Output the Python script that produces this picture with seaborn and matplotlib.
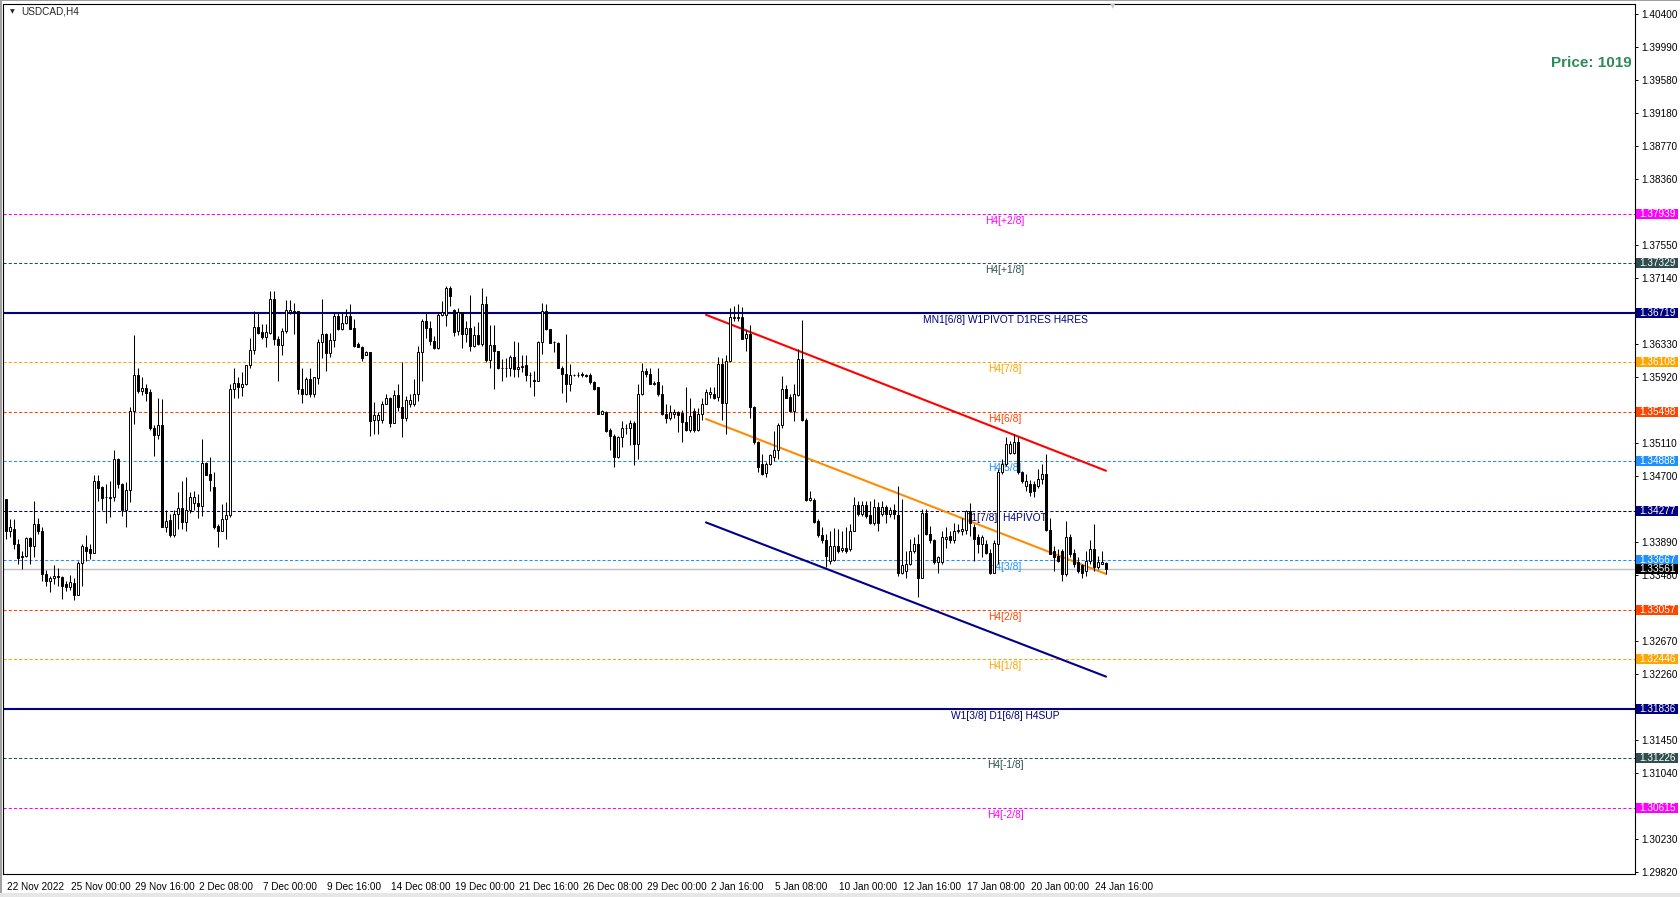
import matplotlib
matplotlib.use("Agg")
import matplotlib.pyplot as plt
import matplotlib.transforms as mtransforms
import matplotlib.patches as mpatches
import numpy as np
import seaborn as sns

# H4 candles, USDCAD, oldest first
opens = [
    1.3442, 1.3403, 1.3405, 1.3386, 1.3370, 1.3372, 1.3394, 1.3384, 1.3411, 1.3403,
    1.3349, 1.3341, 1.3344, 1.3347, 1.3346, 1.3337, 1.3334, 1.3339, 1.3324, 1.3363,
    1.3383, 1.3380, 1.3376, 1.3464, 1.3457, 1.3444, 1.3443, 1.3444, 1.3491, 1.3460,
    1.3429, 1.3453, 1.3550, 1.3595, 1.3575, 1.3579, 1.3574, 1.3529, 1.3521, 1.3533,
    1.3407, 1.3416, 1.3397, 1.3423, 1.3431, 1.3414, 1.3428, 1.3437, 1.3437, 1.3433,
    1.3486, 1.3473, 1.3457, 1.3409, 1.3403, 1.3417, 1.3422, 1.3577, 1.3585, 1.3580,
    1.3584, 1.3607, 1.3626, 1.3654, 1.3648, 1.3642, 1.3647, 1.3688, 1.3639, 1.3632,
    1.3649, 1.3673, 1.3674, 1.3674, 1.3577, 1.3571, 1.3590, 1.3572, 1.3591, 1.3636,
    1.3645, 1.3622, 1.3638, 1.3668, 1.3652, 1.3659, 1.3668, 1.3653, 1.3633, 1.3629,
    1.3619, 1.3623, 1.3540, 1.3540, 1.3540, 1.3559, 1.3567, 1.3536, 1.3570, 1.3556,
    1.3542, 1.3559, 1.3559, 1.3572, 1.3623, 1.3662, 1.3653, 1.3637, 1.3628, 1.3669,
    1.3669, 1.3702, 1.3675, 1.3649, 1.3673, 1.3645, 1.3653, 1.3631, 1.3644, 1.3633,
    1.3683, 1.3613, 1.3632, 1.3625, 1.3603, 1.3603, 1.3603, 1.3617, 1.3602, 1.3605,
    1.3607, 1.3595, 1.3589, 1.3587, 1.3635, 1.3674, 1.3651, 1.3635, 1.3634, 1.3604,
    1.3596, 1.3584, 1.3595, 1.3595, 1.3596, 1.3595, 1.3595, 1.3586, 1.3580, 1.3547,
    1.3549, 1.3527, 1.3520, 1.3494, 1.3518, 1.3530, 1.3529, 1.3536, 1.3510, 1.3571,
    1.3600, 1.3596, 1.3584, 1.3586, 1.3571, 1.3547, 1.3542, 1.3547, 1.3549, 1.3548,
    1.3537, 1.3527, 1.3551, 1.3527, 1.3547, 1.3559, 1.3572, 1.3572, 1.3568, 1.3608,
    1.3560, 1.3612, 1.3665, 1.3665, 1.3666, 1.3640, 1.3646, 1.3556, 1.3512, 1.3485,
    1.3474, 1.3485, 1.3494, 1.3503, 1.3533, 1.3577, 1.3568, 1.3551, 1.3570, 1.3614,
    1.3540, 1.3441, 1.3441, 1.3415, 1.3397, 1.3391, 1.3366, 1.3367, 1.3384, 1.3379,
    1.3381, 1.3380, 1.3403, 1.3435, 1.3423, 1.3434, 1.3422, 1.3412, 1.3432, 1.3423,
    1.3432, 1.3423, 1.3428, 1.3422, 1.3351, 1.3353, 1.3362, 1.3378, 1.3386, 1.3345,
    1.3425, 1.3399, 1.3391, 1.3364, 1.3364, 1.3393, 1.3396, 1.3391, 1.3402, 1.3403,
    1.3404, 1.3427, 1.3407, 1.3395, 1.3386, 1.3387, 1.3376, 1.3351, 1.3386, 1.3475,
    1.3485, 1.3499, 1.3499, 1.3512, 1.3475, 1.3458, 1.3461, 1.3460, 1.3458, 1.3467,
    1.3473, 1.3404, 1.3378, 1.3372, 1.3378, 1.3349, 1.3395, 1.3376, 1.3364, 1.3360,
    1.3353, 1.3366, 1.3380, 1.3358, 1.3362, 1.3363,
]
highs = [
    1.3442, 1.3417, 1.3417, 1.3393, 1.3378, 1.3395, 1.3395, 1.3439, 1.3419, 1.3407,
    1.3354, 1.3347, 1.3360, 1.3357, 1.3347, 1.3341, 1.3348, 1.3345, 1.3366, 1.3386,
    1.3397, 1.3387, 1.3472, 1.3471, 1.3458, 1.3460, 1.3464, 1.3503, 1.3493, 1.3462,
    1.3463, 1.3556, 1.3644, 1.3604, 1.3593, 1.3584, 1.3577, 1.3533, 1.3566, 1.3565,
    1.3428, 1.3423, 1.3428, 1.3450, 1.3464, 1.3469, 1.3451, 1.3452, 1.3448, 1.3516,
    1.3488, 1.3494, 1.3475, 1.3411, 1.3436, 1.3438, 1.3584, 1.3603, 1.3592, 1.3599,
    1.3607, 1.3641, 1.3674, 1.3673, 1.3658, 1.3658, 1.3699, 1.3698, 1.3643, 1.3653,
    1.3687, 1.3687, 1.3684, 1.3674, 1.3604, 1.3592, 1.3604, 1.3593, 1.3639, 1.3688,
    1.3647, 1.3647, 1.3672, 1.3673, 1.3672, 1.3676, 1.3682, 1.3664, 1.3636, 1.3631,
    1.3625, 1.3623, 1.3561, 1.3549, 1.3563, 1.3571, 1.3568, 1.3576, 1.3584, 1.3611,
    1.3569, 1.3572, 1.3590, 1.3631, 1.3664, 1.3673, 1.3662, 1.3643, 1.3671, 1.3686,
    1.3704, 1.3704, 1.3676, 1.3677, 1.3673, 1.3662, 1.3694, 1.3655, 1.3660, 1.3702,
    1.3692, 1.3657, 1.3657, 1.3625, 1.3614, 1.3616, 1.3619, 1.3637, 1.3636, 1.3619,
    1.3619, 1.3598, 1.3600, 1.3637, 1.3684, 1.3683, 1.3652, 1.3637, 1.3636, 1.3606,
    1.3646, 1.3609, 1.3596, 1.3598, 1.3598, 1.3596, 1.3597, 1.3588, 1.3580, 1.3552,
    1.3551, 1.3530, 1.3522, 1.3520, 1.3538, 1.3535, 1.3539, 1.3538, 1.3584, 1.3610,
    1.3604, 1.3604, 1.3588, 1.3603, 1.3583, 1.3559, 1.3558, 1.3553, 1.3551, 1.3552,
    1.3580, 1.3566, 1.3554, 1.3554, 1.3567, 1.3578, 1.3580, 1.3580, 1.3617, 1.3616,
    1.3619, 1.3677, 1.3680, 1.3683, 1.3679, 1.3650, 1.3657, 1.3557, 1.3514, 1.3497,
    1.3487, 1.3498, 1.3526, 1.3536, 1.3594, 1.3582, 1.3571, 1.3584, 1.3627, 1.3663,
    1.3542, 1.3452, 1.3443, 1.3417, 1.3407, 1.3399, 1.3403, 1.3406, 1.3405, 1.3403,
    1.3407, 1.3411, 1.3444, 1.3440, 1.3440, 1.3440, 1.3440, 1.3442, 1.3438, 1.3440,
    1.3434, 1.3432, 1.3436, 1.3458, 1.3442, 1.3378, 1.3393, 1.3395, 1.3399, 1.3430,
    1.3430, 1.3409, 1.3393, 1.3372, 1.3403, 1.3407, 1.3403, 1.3413, 1.3411, 1.3419,
    1.3428, 1.3437, 1.3411, 1.3399, 1.3397, 1.3391, 1.3380, 1.3391, 1.3479, 1.3491,
    1.3518, 1.3514, 1.3522, 1.3518, 1.3477, 1.3473, 1.3466, 1.3464, 1.3479, 1.3485,
    1.3497, 1.3419, 1.3384, 1.3380, 1.3380, 1.3415, 1.3399, 1.3380, 1.3370, 1.3362,
    1.3378, 1.3391, 1.3411, 1.3372, 1.3378, 1.3364,
]
lows = [
    1.3393, 1.3395, 1.3380, 1.3362, 1.3356, 1.3370, 1.3362, 1.3370, 1.3399, 1.3341,
    1.3335, 1.3327, 1.3337, 1.3335, 1.3319, 1.3329, 1.3330, 1.3317, 1.3323, 1.3335,
    1.3366, 1.3368, 1.3376, 1.3440, 1.3428, 1.3412, 1.3420, 1.3440, 1.3456, 1.3421,
    1.3407, 1.3438, 1.3535, 1.3573, 1.3570, 1.3563, 1.3527, 1.3495, 1.3516, 1.3407,
    1.3401, 1.3395, 1.3395, 1.3405, 1.3405, 1.3403, 1.3425, 1.3428, 1.3419, 1.3421,
    1.3471, 1.3452, 1.3405, 1.3383, 1.3403, 1.3393, 1.3420, 1.3567, 1.3567, 1.3569,
    1.3582, 1.3604, 1.3621, 1.3645, 1.3639, 1.3630, 1.3645, 1.3632, 1.3588, 1.3620,
    1.3647, 1.3670, 1.3645, 1.3571, 1.3560, 1.3570, 1.3568, 1.3568, 1.3584, 1.3616,
    1.3600, 1.3617, 1.3629, 1.3650, 1.3650, 1.3658, 1.3651, 1.3630, 1.3629, 1.3612,
    1.3619, 1.3520, 1.3522, 1.3522, 1.3536, 1.3559, 1.3531, 1.3536, 1.3551, 1.3518,
    1.3538, 1.3555, 1.3557, 1.3563, 1.3588, 1.3641, 1.3632, 1.3627, 1.3627, 1.3668,
    1.3655, 1.3680, 1.3643, 1.3644, 1.3628, 1.3635, 1.3625, 1.3629, 1.3632, 1.3631,
    1.3611, 1.3603, 1.3578, 1.3602, 1.3587, 1.3592, 1.3594, 1.3593, 1.3592, 1.3598,
    1.3588, 1.3580, 1.3569, 1.3587, 1.3621, 1.3650, 1.3634, 1.3623, 1.3603, 1.3573,
    1.3561, 1.3575, 1.3594, 1.3593, 1.3593, 1.3592, 1.3584, 1.3576, 1.3547, 1.3547,
    1.3525, 1.3503, 1.3482, 1.3493, 1.3506, 1.3522, 1.3508, 1.3484, 1.3491, 1.3570,
    1.3593, 1.3584, 1.3582, 1.3569, 1.3546, 1.3536, 1.3539, 1.3542, 1.3525, 1.3512,
    1.3526, 1.3524, 1.3524, 1.3526, 1.3540, 1.3559, 1.3566, 1.3565, 1.3563, 1.3540,
    1.3522, 1.3611, 1.3662, 1.3662, 1.3639, 1.3625, 1.3542, 1.3510, 1.3475, 1.3472,
    1.3469, 1.3484, 1.3489, 1.3491, 1.3530, 1.3566, 1.3549, 1.3538, 1.3569, 1.3538,
    1.3440, 1.3440, 1.3413, 1.3395, 1.3388, 1.3358, 1.3362, 1.3365, 1.3376, 1.3377,
    1.3376, 1.3378, 1.3403, 1.3421, 1.3421, 1.3419, 1.3411, 1.3410, 1.3403, 1.3421,
    1.3413, 1.3420, 1.3417, 1.3347, 1.3350, 1.3345, 1.3360, 1.3376, 1.3321, 1.3345,
    1.3397, 1.3388, 1.3362, 1.3351, 1.3362, 1.3382, 1.3388, 1.3388, 1.3400, 1.3397,
    1.3399, 1.3396, 1.3366, 1.3376, 1.3370, 1.3374, 1.3349, 1.3351, 1.3362, 1.3473,
    1.3483, 1.3497, 1.3497, 1.3473, 1.3462, 1.3452, 1.3446, 1.3444, 1.3456, 1.3460,
    1.3403, 1.3374, 1.3353, 1.3364, 1.3341, 1.3347, 1.3370, 1.3358, 1.3351, 1.3345,
    1.3347, 1.3362, 1.3353, 1.3356, 1.3362, 1.3349,
]
closes = [
    1.3403, 1.3407, 1.3386, 1.3369, 1.3372, 1.3394, 1.3384, 1.3411, 1.3403, 1.3349,
    1.3341, 1.3344, 1.3347, 1.3346, 1.3335, 1.3334, 1.3340, 1.3324, 1.3363, 1.3384,
    1.3378, 1.3375, 1.3464, 1.3456, 1.3443, 1.3444, 1.3445, 1.3491, 1.3460, 1.3429,
    1.3453, 1.3550, 1.3595, 1.3575, 1.3579, 1.3573, 1.3529, 1.3521, 1.3533, 1.3407,
    1.3415, 1.3397, 1.3423, 1.3431, 1.3414, 1.3428, 1.3444, 1.3444, 1.3433, 1.3486,
    1.3472, 1.3466, 1.3407, 1.3403, 1.3417, 1.3422, 1.3577, 1.3585, 1.3580, 1.3584,
    1.3607, 1.3626, 1.3654, 1.3647, 1.3642, 1.3648, 1.3688, 1.3639, 1.3632, 1.3649,
    1.3675, 1.3675, 1.3673, 1.3577, 1.3571, 1.3590, 1.3572, 1.3592, 1.3636, 1.3645,
    1.3622, 1.3638, 1.3668, 1.3651, 1.3659, 1.3668, 1.3652, 1.3631, 1.3629, 1.3616,
    1.3623, 1.3538, 1.3545, 1.3545, 1.3559, 1.3567, 1.3536, 1.3570, 1.3555, 1.3542,
    1.3564, 1.3564, 1.3572, 1.3623, 1.3662, 1.3653, 1.3637, 1.3628, 1.3669, 1.3673,
    1.3702, 1.3692, 1.3648, 1.3673, 1.3645, 1.3653, 1.3631, 1.3644, 1.3633, 1.3683,
    1.3613, 1.3632, 1.3625, 1.3603, 1.3603, 1.3604, 1.3617, 1.3602, 1.3605, 1.3606,
    1.3595, 1.3595, 1.3587, 1.3635, 1.3674, 1.3651, 1.3634, 1.3635, 1.3604, 1.3596,
    1.3584, 1.3595, 1.3595, 1.3595, 1.3595, 1.3594, 1.3586, 1.3577, 1.3547, 1.3551,
    1.3526, 1.3520, 1.3494, 1.3518, 1.3529, 1.3530, 1.3536, 1.3510, 1.3571, 1.3600,
    1.3596, 1.3584, 1.3585, 1.3571, 1.3547, 1.3542, 1.3549, 1.3549, 1.3546, 1.3537,
    1.3527, 1.3544, 1.3527, 1.3547, 1.3559, 1.3574, 1.3574, 1.3567, 1.3608, 1.3560,
    1.3612, 1.3666, 1.3666, 1.3666, 1.3639, 1.3646, 1.3555, 1.3512, 1.3482, 1.3473,
    1.3485, 1.3496, 1.3503, 1.3533, 1.3577, 1.3567, 1.3551, 1.3571, 1.3614, 1.3540,
    1.3441, 1.3443, 1.3414, 1.3397, 1.3391, 1.3372, 1.3384, 1.3384, 1.3378, 1.3381,
    1.3378, 1.3403, 1.3435, 1.3423, 1.3434, 1.3421, 1.3412, 1.3432, 1.3413, 1.3432,
    1.3423, 1.3428, 1.3423, 1.3351, 1.3360, 1.3362, 1.3378, 1.3386, 1.3345, 1.3425,
    1.3399, 1.3391, 1.3364, 1.3370, 1.3395, 1.3395, 1.3391, 1.3403, 1.3404, 1.3405,
    1.3427, 1.3413, 1.3393, 1.3386, 1.3395, 1.3376, 1.3351, 1.3388, 1.3475, 1.3485,
    1.3510, 1.3510, 1.3512, 1.3475, 1.3464, 1.3464, 1.3451, 1.3452, 1.3467, 1.3473,
    1.3404, 1.3374, 1.3370, 1.3366, 1.3349, 1.3395, 1.3374, 1.3362, 1.3353, 1.3351,
    1.3366, 1.3380, 1.3358, 1.3364, 1.3364, 1.3356,
]

# Murrey-math style levels
level_values = [1.37939, 1.37329, 1.36719, 1.36108, 1.35498, 1.34888, 1.34277,
                1.33667, 1.33057, 1.32446, 1.31836, 1.31226, 1.30615]
level_labels = ["H4[+2/8]", "H4[+1/8]", "MN1[6/8] W1PIVOT D1RES H4RES", "H4[7/8]",
                "H4[6/8]", "H4[5/8]", "D1[7/8]  H4PIVOT", "H4[3/8]", "H4[2/8]",
                "H4[1/8]", "W1[3/8] D1[6/8] H4SUP", "H4[-1/8]", "H4[-2/8]"]
level_colors = ["#FF00FF", "#2F4F4F", "#000080", "#FFA500", "#FF4500", "#1E90FF",
                "#000080", "#1E90FF", "#FF4500", "#FFA500", "#000080", "#2F4F4F",
                "#FF00FF"]
level_solid = [False, False, True, False, False, False, False, False, False,
               False, True, False, False]
bid_price = 1.33561

# regression channel (start bar, end bar, start price, end price)
chan_bars = [175, 275]
chan_upper = [1.36691, 1.34768]
chan_mid = [1.35406, 1.33496]
chan_lower = [1.34131, 1.32230]

# axis ticks
ytick_values = [1.40400, 1.39990, 1.39580, 1.39180, 1.38770, 1.38360, 1.37550,
                1.37140, 1.36330, 1.35920, 1.35110, 1.34700, 1.33890, 1.33480,
                1.32670, 1.32260, 1.31450, 1.31040, 1.30230, 1.29820]
xtick_bars = [0, 16, 32, 48, 64, 80, 96, 112, 128, 144, 160, 176, 192, 208,
              224, 240, 256, 272]
xtick_labels = ["22 Nov 2022", "25 Nov 00:00", "29 Nov 16:00", "2 Dec 08:00",
                "7 Dec 00:00", "9 Dec 16:00", "14 Dec 08:00", "19 Dec 00:00",
                "21 Dec 16:00", "26 Dec 08:00", "29 Dec 00:00", "2 Jan 16:00",
                "5 Jan 08:00", "10 Jan 00:00", "12 Jan 16:00", "17 Jan 08:00",
                "20 Jan 00:00", "24 Jan 16:00"]

sns.set_style("white")
plt.rcParams['font.family'] = ['Liberation Sans', 'DejaVu Sans']

W, H = 1681, 897
fig = plt.figure(figsize=(W / 100, H / 100), dpi=100)
ax_l, ax_r, ax_t, ax_b = 3.5, 1635, 4.5, 874
ax = fig.add_axes([ax_l / W, (H - ax_b) / H, (ax_r - ax_l) / W, (ax_b - ax_t) / H])
ax.set_xlim(-0.625, 407.25)
ax.set_ylim(1.29796, 1.40517)
ax_w_px = ax_r - ax_l
px = (1.40517 - 1.29796) / (ax_b - ax_t)   # price per pixel

# levels
for v, lab, c, solid in zip(level_values, level_labels, level_colors, level_solid):
    if solid:
        ax.axhline(v, color=c, lw=1.5, zorder=1)
    else:
        ax.axhline(v, color=c, lw=0.75, dashes=(3, 2), zorder=1)
    ax.annotate(lab, (249.75, v), xytext=(0, -1.5), textcoords='offset points',
                ha='center', va='top', fontsize=7.4, color=c, zorder=1.5)
ax.axhline(bid_price, color='#C0C0C0', lw=1, zorder=1)

# channel
for yy, c in [(chan_upper, '#FF0000'), (chan_mid, '#FF8C00'), (chan_lower, '#00008B')]:
    sns.lineplot(x=chan_bars, y=yy, color=c, lw=1.5, ax=ax, zorder=2)

# candles
x = np.arange(len(opens))
o = np.array(opens); c_ = np.array(closes)
ax.vlines(x, lows, highs, color='black', lw=0.75, zorder=3)
bull = c_ >= o
bottoms = np.minimum(o, c_)
heights = np.abs(c_ - o)
ax.bar(x[bull], heights[bull], bottom=bottoms[bull], width=0.58, color='white',
       edgecolor='black', linewidth=0.7, zorder=4)
ax.bar(x[~bull], heights[~bull], bottom=bottoms[~bull], width=0.58, color='black',
       edgecolor='black', linewidth=0.7, zorder=4)

# axes styling
for s in ax.spines.values():
    s.set_color('black')
    s.set_linewidth(0.8)
ax.yaxis.tick_right()
ax.set_yticks(ytick_values)
ax.set_yticklabels([f"{v:.5f}" for v in ytick_values])
ax.set_xticks(xtick_bars)
ax.set_xticklabels(xtick_labels)
ax.tick_params(axis='y', length=2.5, width=0.7, pad=2, labelsize=7.2, colors='black')
ax.tick_params(axis='x', length=3, width=0.7, pad=2.5, labelsize=7.2, colors='black')
shift = mtransforms.ScaledTranslation(1.5 / 100, 0, fig.dpi_scale_trans)
for lbl in ax.get_xticklabels():
    lbl.set_ha('left')
    lbl.set_transform(lbl.get_transform() + shift)

# price boxes on the right scale
ytr = ax.get_yaxis_transform()
box_vals = level_values + [bid_price]
box_cols = level_colors + ['#000000']
for v, c in zip(box_vals, box_cols):
    ax.add_patch(mpatches.Rectangle((1 + 1.5 / ax_w_px, v - 5 * px), 42 / ax_w_px, 10 * px,
                                    transform=ytr, facecolor=c, edgecolor='none',
                                    clip_on=False, zorder=6))
    ax.text(1 + 4.5 / ax_w_px, v, f"{v:.5f}", transform=ytr, color='white', fontsize=7.2,
            ha='left', va='center', clip_on=False, zorder=7)

# header texts
fig.text(21 / W, 1 - 12 / H, "USDCAD,H4", fontsize=7.2, ha='left', va='center')
fig.text(12 / W, 1 - 11.5 / H, "\u25BC", fontsize=4.5, ha='center', va='center',
         family='DejaVu Sans')
fig.text(1632 / W, 1 - 63 / H, "Price: 1019", fontsize=11, fontweight='bold',
         color='#2E8B57', ha='right', va='center')
fig.text(1113 / W, 1 - 6 / H, "\u25BC", fontsize=5, color='#C8C8C8', ha='center',
         va='center', family='DejaVu Sans')

# window frame bits
fig.patches.append(mpatches.Rectangle((0, 0), 2 / W, 1, transform=fig.transFigure,
                                      facecolor='#A0A0A0', edgecolor='none'))
fig.patches.append(mpatches.Rectangle((0, 1 - 1.5 / H), 1, 1.5 / H, transform=fig.transFigure,
                                      facecolor='#A0A0A0', edgecolor='none'))
fig.patches.append(mpatches.Rectangle((0, 0), 1, 4 / H, transform=fig.transFigure,
                                      facecolor='#E6E6E6', edgecolor='none'))

fig.savefig("out.png", dpi=100)
